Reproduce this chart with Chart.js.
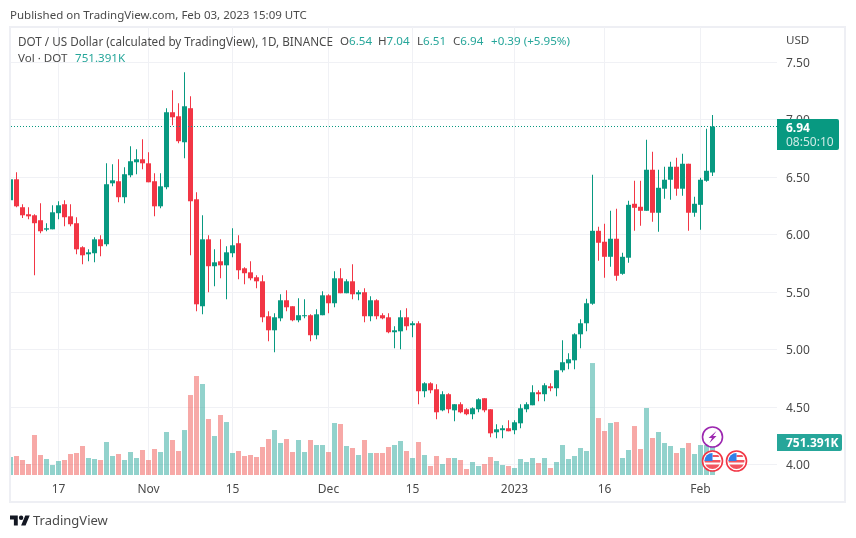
<!DOCTYPE html>
<html>
<head>
<meta charset="utf-8">
<title>DOT / US Dollar</title>
<script src="https://cdn.jsdelivr.net/npm/chart.js@4"></script>
<style>
  html, body { margin: 0; padding: 0; background: #fff; }
  body { width: 856px; height: 538px; position: relative; overflow: hidden; font-family: "Noto Sans", sans-serif; color: #4a4a4a; }
  canvas { position: absolute; left: 0; top: 0; }
  .txt { position: absolute; white-space: pre; font-size: 11.6px; line-height: 16px; }
  .up { color: #26a69a; }
  .logo { position: absolute; left: 10px; top: 515px; }
</style>
</head>
<body>
<canvas id="myChart" width="856" height="538"></canvas>
<div class="txt" style="left:10px;top:7px;font-size:11.5px">Published on TradingView.com, Feb 03, 2023 15:09 UTC</div>
<div class="txt" style="left:18px;top:33px;font-size:11.7px">DOT / US Dollar (calculated by TradingView), 1D, BINANCE</div>
<div class="txt" style="left:340px;top:33px">O<span class="up">6.54</span></div>
<div class="txt" style="left:378px;top:33px">H<span class="up">7.04</span></div>
<div class="txt" style="left:417px;top:33px">L<span class="up">6.51</span></div>
<div class="txt" style="left:453px;top:33px">C<span class="up">6.94</span></div>
<div class="txt up" style="left:491px;top:33px">+0.39 (+5.95%)</div>
<div class="txt" style="left:18px;top:50px">Vol · DOT</div>
<div class="txt up" style="left:75px;top:50px">751.391K</div>
<div class="txt" style="left:786px;top:32px">USD</div>
<svg class="logo" width="20" height="11" viewBox="0 4 36 18"><path fill="#131722" d="M14 22H7V11H0V4h14v18zM28 22h-8l7.5-18h8L28 22z"/><circle fill="#131722" cx="20" cy="8" r="4"/></svg>
<div class="txt" style="left:33px;top:512px;font-size:13px">TradingView</div>
<script>
var opens = [6.299,6.481,6.238,6.177,6.168,6.125,6.043,6.046,6.186,6.264,
  6.159,6.099,5.890,5.829,5.838,5.959,5.916,6.446,6.464,6.325,
  6.516,6.629,6.655,6.620,6.464,6.246,6.412,7.064,7.029,6.803,
  7.099,6.307,5.377,5.959,5.725,5.768,5.733,5.838,5.925,5.707,
  5.672,5.629,5.594,5.290,5.168,5.272,5.429,5.377,5.255,5.290,
  5.299,5.125,5.299,5.472,5.403,5.620,5.490,5.594,5.481,5.499,
  5.290,5.429,5.299,5.281,5.151,5.159,5.281,5.212,5.229,4.638,
  4.707,4.655,4.472,4.612,4.472,4.525,4.481,4.438,4.481,4.577,
  4.481,4.281,4.299,4.316,4.299,4.359,4.481,4.516,4.629,4.612,
  4.681,4.664,4.820,4.881,4.907,5.133,5.229,5.399,6.033,5.938,
  5.807,5.964,5.659,5.799,6.268,6.242,6.207,6.564,6.190,6.399,
  6.477,6.590,6.399,6.616,6.190,6.259,6.468,6.54];
var closes = [6.481,6.246,6.168,6.159,6.099,6.029,6.055,6.194,6.255,6.151,
  6.090,5.872,5.820,5.846,5.959,5.899,6.438,6.472,6.325,6.525,
  6.638,6.655,6.620,6.455,6.246,6.420,7.064,7.020,6.812,7.116,
  6.290,5.394,5.959,5.725,5.759,5.733,5.846,5.907,5.690,5.664,
  5.620,5.594,5.281,5.168,5.281,5.429,5.368,5.255,5.299,5.299,
  5.125,5.307,5.472,5.403,5.620,5.490,5.594,5.481,5.499,5.290,
  5.429,5.290,5.272,5.151,5.168,5.281,5.203,5.229,4.638,4.707,
  4.646,4.455,4.612,4.481,4.525,4.455,4.438,4.490,4.568,4.472,
  4.272,4.307,4.316,4.290,4.368,4.490,4.525,4.629,4.612,4.690,
  4.664,4.820,4.890,4.916,5.133,5.229,5.403,6.033,5.929,5.807,
  5.964,5.642,5.807,6.259,6.233,6.207,6.564,6.190,6.407,6.477,
  6.590,6.399,6.616,6.190,6.268,6.477,6.555,6.94];
var highs = [6.487,6.542,6.264,6.238,6.177,6.272,6.099,6.255,6.290,6.299,
  6.264,6.151,5.899,5.872,5.977,5.994,6.620,6.612,6.655,6.586,
  6.768,6.742,6.829,6.716,6.533,6.533,7.099,7.255,7.142,7.412,
  7.203,6.368,6.168,5.994,5.872,5.959,5.899,6.055,5.994,5.716,
  5.768,5.646,5.646,5.333,5.316,5.481,5.516,5.377,5.446,5.438,
  5.307,5.351,5.507,5.481,5.681,5.707,5.612,5.742,5.516,5.533,
  5.464,5.438,5.316,5.316,5.203,5.342,5.359,5.246,5.246,4.716,
  4.716,4.699,4.638,4.620,4.525,4.542,4.490,4.499,4.577,4.577,
  4.481,4.351,4.342,4.386,4.386,4.525,4.542,4.690,4.646,4.707,
  4.707,4.820,5.081,4.968,5.142,5.264,5.442,6.520,6.068,6.094,
  6.207,6.225,5.842,6.294,6.468,6.468,6.825,6.720,6.564,6.590,
  6.633,6.668,6.703,6.616,6.329,6.494,6.920,7.04];
var lows = [6.284,6.238,6.145,6.133,5.646,6.012,6.029,6.046,6.133,6.072,
  6.072,5.829,5.742,5.768,5.759,5.812,5.899,6.420,6.281,6.272,
  6.499,6.525,6.568,6.455,6.159,6.229,6.394,6.951,6.794,6.664,
  5.820,5.333,5.307,5.499,5.551,5.620,5.438,5.803,5.612,5.568,
  5.603,5.533,5.238,5.072,4.977,5.246,5.333,5.246,5.238,5.272,
  5.072,5.090,5.299,5.316,5.368,5.490,5.490,5.438,5.429,5.238,
  5.246,5.264,5.264,5.142,5.012,5.003,5.168,5.107,4.525,4.586,
  4.620,4.394,4.464,4.446,4.377,4.446,4.429,4.394,4.455,4.455,
  4.238,4.229,4.229,4.290,4.264,4.316,4.455,4.516,4.551,4.551,
  4.638,4.594,4.803,4.829,4.829,5.012,5.159,5.390,5.772,5.625,
  5.720,5.599,5.651,5.755,6.033,6.077,6.207,6.112,6.025,6.312,
  6.303,6.338,6.338,6.033,6.155,6.042,6.459,6.51];
// volume in thousands of DOT
var volumes = [419,442,349,256,930,465,372,233,326,349,
  488,512,674,395,372,349,767,442,488,349,
  535,395,581,349,605,535,1000,814,558,1046,
  1860,2302,2116,1302,907,1395,1232,512,558,442,
  465,419,651,837,1046,744,837,535,814,535,
  814,698,698,535,1209,1186,674,628,465,814,
  512,512,512,651,698,791,558,395,767,465,
  209,442,256,395,395,349,140,302,209,256,
  419,326,233,209,163,372,302,395,279,395,
  163,302,698,372,442,628,558,2604,1325,1023,
  1209,1232,395,581,1139,605,1558,860,1000,744,
  674,512,628,744,488,698,698,751.391];

var priceTicks = [4, 4.5, 5, 5.5, 6, 6.5, 7, 7.5];
var timeTickIndex = [8, 23, 37, 53, 67, 84, 99, 115];
var timeTickLabels = ['17', 'Nov', '15', 'Dec', '15', '2023', '16', 'Feb'];
var lastPrice = 6.94;
var lastVolume = 751.391;

var upColor = '#089981';
var downColor = '#F23645';
var volUp = 'rgba(38, 166, 154, 0.5)';
var volDown = 'rgba(239, 83, 80, 0.5)';
var gridColor = '#f0f1f5';
var textColor = '#4a4a4a';
var font = '"Noto Sans", sans-serif';

var wicks = [], bodies = [], vols = [], candleColors = [], volColors = [];
opens.forEach(function(o, i) {
    var up = closes[i] >= o;
    wicks.push({x: i, y: [lows[i], highs[i]]});
    bodies.push({x: i, y: [o, closes[i]]});
    vols.push({x: i, y: volumes[i]});
    candleColors.push(up ? upColor : downColor);
    volColors.push(up ? volUp : volDown);
});

function tag(c, x, y, w, h, color) {
    c.fillStyle = color;
    c.beginPath();
    c.roundRect(x, y, w, h, [0, 2, 2, 0]);
    c.fill();
}

function flag(c, x, y) {
    c.save();
    c.beginPath(); c.arc(x, y, 10, 0, Math.PI * 2);
    c.fillStyle = '#fff'; c.fill();
    c.lineWidth = 1.6; c.strokeStyle = '#f23645'; c.stroke();
    c.beginPath(); c.arc(x, y, 8, 0, Math.PI * 2); c.clip();
    c.fillStyle = '#f2545f';
    c.fillRect(x - 9, y - 1, 18, 2.5);
    c.fillRect(x - 9, y + 3.5, 18, 5);
    c.fillRect(x, y - 6, 9, 2);
    c.fillStyle = '#2f80e8';
    c.fillRect(x - 9, y - 9, 9, 9);
    c.restore();
}

var overlay = {
    id: 'overlay',
    beforeDraw: function(chart) {
        var c = chart.ctx;
        c.strokeStyle = '#eeeff4';
        c.lineWidth = 2;
        c.strokeRect(10, 27, 835, 475);
    },
    afterDraw: function(chart) {
        var c = chart.ctx, y = chart.scales.y, v = chart.scales.v, x = chart.scales.x;
        var py = Math.round(y.getPixelForValue(lastPrice));
        tag(c, 777, py - 8, 62, 31, upColor);
        c.textBaseline = 'middle';
        c.textAlign = 'left';
        c.fillStyle = '#fff';
        c.font = 'bold 12px ' + font;
        c.fillText(lastPrice.toFixed(2), 786, py + 2);
        c.fillStyle = 'rgba(255,255,255,0.8)';
        c.font = '12px ' + font;
        c.fillText('08:50:10', 786, py + 16);

        var vy = Math.round(v.getPixelForValue(lastVolume));
        tag(c, 777, vy - 9, 65, 17, '#26a69a');
        c.fillStyle = '#fff';
        c.font = 'bold 12px ' + font;
        c.fillText(lastVolume.toFixed(3) + 'K', 786, vy + 1);

        // event markers under the last bars
        var mx = x.getPixelForValue(117);
        c.beginPath(); c.arc(mx, 437, 10, 0, Math.PI * 2);
        c.fillStyle = '#fff'; c.fill();
        c.lineWidth = 1.6; c.strokeStyle = '#9c27b0'; c.stroke();
        c.fillStyle = '#9c27b0';
        c.beginPath();
        c.moveTo(mx + 4, 431); c.lineTo(mx - 4, 438); c.lineTo(mx - 0.5, 438);
        c.lineTo(mx - 3, 443); c.lineTo(mx + 4, 436); c.lineTo(mx + 0.5, 436);
        c.closePath(); c.fill();
        flag(c, mx, 461);
        flag(c, x.getPixelForValue(121), 461);
    }
};

var ctx = document.getElementById('myChart').getContext('2d');
var myChart = new Chart(ctx, {
    type: 'bar',
    data: {
        datasets: [{
            label: 'Vol',
            yAxisID: 'v',
            data: vols,
            backgroundColor: volColors,
            barThickness: 5,
            inflateAmount: 0,
            grouped: false,
            order: 3
        }, {
            label: 'Wick',
            data: wicks,
            backgroundColor: candleColors,
            barThickness: 1,
            inflateAmount: 0,
            grouped: false,
            order: 2
        }, {
            label: 'Body',
            data: bodies,
            backgroundColor: candleColors,
            barThickness: 5,
            inflateAmount: 0,
            minBarLength: 1,
            grouped: false,
            order: 1
        }, {
            type: 'line',
            label: 'Last',
            data: [{x: 0.0833, y: lastPrice}, {x: 127.75, y: lastPrice}],
            borderColor: upColor,
            borderWidth: 1,
            borderDash: [1, 2],
            pointRadius: 0,
            order: 0
        }]
    },
    options: {
        responsive: false,
        animation: false,
        layout: {padding: {left: 11, top: 27}},
        plugins: {legend: {display: false}, tooltip: {enabled: false}},
        scales: {
            x: {
                type: 'linear',
                offset: false,
                min: 0.0833,
                max: 127.75,
                grid: {color: gridColor, drawTicks: false, offset: false},
                border: {display: false},
                afterBuildTicks: function(axis) {
                    axis.ticks = timeTickIndex.map(function(i) { return {value: i}; });
                },
                afterFit: function(axis) { axis.height = 63; },
                ticks: {
                    color: textColor,
                    font: {family: font, size: 12},
                    padding: 7,
                    maxRotation: 0,
                    autoSkip: false,
                    callback: function(value) {
                        return timeTickLabels[timeTickIndex.indexOf(value)];
                    }
                }
            },
            y: {
                position: 'right',
                min: 3.90957,
                max: 7.80522,
                grid: {color: gridColor, drawTicks: false},
                border: {display: false},
                afterBuildTicks: function(axis) {
                    axis.ticks = priceTicks.map(function(p) { return {value: p}; });
                },
                afterFit: function(axis) { axis.width = 79; },
                ticks: {
                    color: textColor,
                    font: {family: font, size: 12},
                    padding: 9,
                    labelOffset: 1,
                    callback: function(value) { return value.toFixed(2); }
                }
            },
            v: {
                display: false,
                min: 0,
                max: 10420
            }
        }
    },
    plugins: [overlay]
});
</script>
</body>
</html>
